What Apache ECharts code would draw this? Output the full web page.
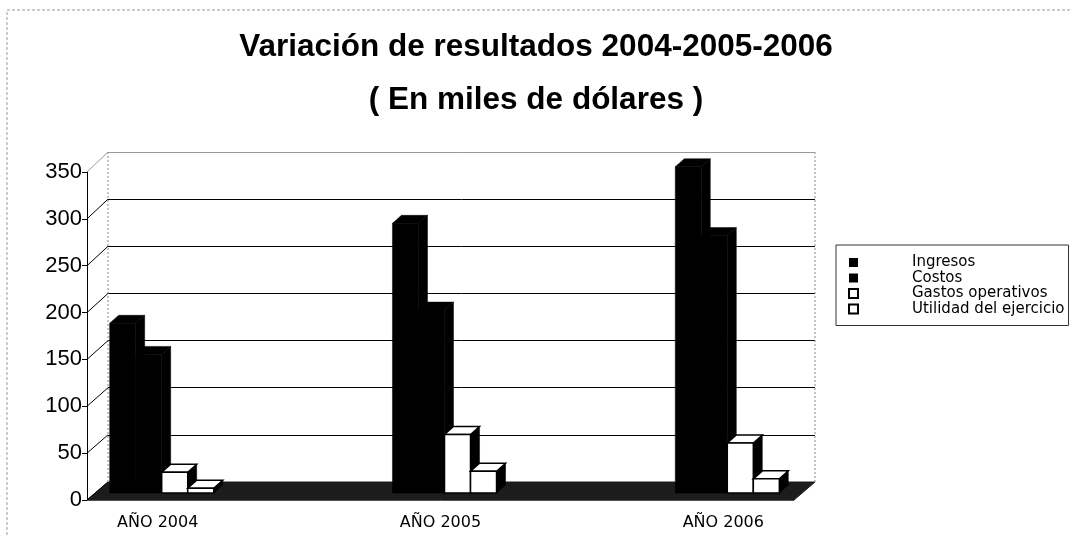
<!DOCTYPE html>
<html>
<head>
<meta charset="utf-8">
<script src="https://cdn.jsdelivr.net/npm/echarts@6/dist/echarts.min.js"></script>
<style>
  html, body { margin: 0; padding: 0; background: #fff; }
  #chart { width: 1072px; height: 535px; }
</style>
</head>
<body>
<div id="chart"></div>
<script>
// data (miles de dólares)
var categories = ['AÑO 2004', '', 'AÑO 2005', '', 'AÑO 2006']
var ingresos = [180, null, 286, null, 346]
var costos = [147, null, 194, null, 273]
var gastos = [22, null, 62, null, 53]
var utilidad = [5, null, 23, null, 15]
var yTicks = [0, 50, 100, 150, 200, 250, 300, 350]
var seriesNames = ['Ingresos', 'Costos', 'Gastos operativos', 'Utilidad del ejercicio']

// pseudo 3d layout: back wall, front axis plane and bar plane
var BACK = {left: 108, top: 152, width: 707, height: 330}
var FRONT = {left: 87, top: 172, width: 707, height: 328}
var BARS = {left: 91, top: 163, width: 707, height: 330}
var DEPTH_X = 9
var DEPTH_Y = 8
var BAR_FRAC = 0.184

var fills = ['#000', '#000', '#fff', '#fff']

function toPairs (arr) {
  var out = []
  arr.forEach(function (v, i) {
    if (v !== null) out.push([i, v])
  })
  return out
}

function barRenderer (k) {
  return function (params, api) {
    var top = api.coord([api.value(0), api.value(1)])
    var base = api.coord([api.value(0), 0])
    var band = api.size([1, 0])[0]
    var w = band * BAR_FRAC
    var x0 = top[0] - 2 * w + k * w
    var x1 = x0 + w
    var yt = top[1]
    var yb = base[1]
    var fill = fills[k]
    var edge = {stroke: '#000', lineWidth: fill === '#fff' ? 1.5 : 0.5}
    return {
      type: 'group',
      children: [
        {
          type: 'polygon',
          shape: {points: [[x1, yt], [x1 + DEPTH_X, yt - DEPTH_Y], [x1 + DEPTH_X, yb - DEPTH_Y], [x1, yb]]},
          style: {fill: '#000', stroke: '#000', lineWidth: 0.5}
        },
        {
          type: 'polygon',
          shape: {points: [[x0, yt], [x0 + DEPTH_X, yt - DEPTH_Y], [x1 + DEPTH_X, yt - DEPTH_Y], [x1, yt]]},
          style: Object.assign({fill: fill}, edge)
        },
        {
          type: 'rect',
          shape: {x: x0, y: yt, width: w, height: yb - yt},
          style: Object.assign({fill: fill}, edge)
        }
      ]
    }
  }
}

var valueSets = [ingresos, costos, gastos, utilidad]
var series = valueSets.map(function (arr, k) {
  return {
    name: seriesNames[k],
    type: 'custom',
    xAxisIndex: 2,
    yAxisIndex: 2,
    z: 5,
    itemStyle: {color: fills[k], borderColor: '#000'},
    renderItem: barRenderer(k),
    data: toPairs(arr)
  }
})

var yMin = yTicks[0]
var yMax = yTicks[yTicks.length - 1]
var yStep = yTicks[1] - yTicks[0]

var gridColors = yTicks.map(function (v, i) {
  return i === yTicks.length - 1 ? '#9a9a9a' : '#000'
})

var option = {
  backgroundColor: '#fff',
  animation: false,
  title: {
    text: 'Variación de resultados 2004-2005-2006\n( En miles de dólares )',
    left: 'center',
    top: 16,
    textStyle: {
      fontFamily: 'Liberation Sans',
      fontWeight: 'bold',
      fontSize: 31.5,
      lineHeight: 53,
      color: '#000'
    }
  },
  legend: {
    orient: 'vertical',
    left: 836,
    top: 245,
    padding: [10, 4, 9, 12],
    borderColor: '#333',
    borderWidth: 1,
    itemWidth: 9,
    itemHeight: 9,
    itemGap: 0.5,
    formatter: function (name) { return '{s|}' + name },
    textStyle: {
      fontFamily: 'DejaVu Sans',
      fontSize: 15,
      lineHeight: 15,
      color: '#000',
      rich: {s: {width: 49}}
    },
    data: [
      {name: seriesNames[0], icon: 'rect', itemStyle: {color: '#000', borderWidth: 0}},
      {name: seriesNames[1], icon: 'rect', itemStyle: {color: '#000', borderWidth: 0}},
      {name: seriesNames[2], icon: 'rect', itemStyle: {color: '#fff', borderColor: '#000', borderWidth: 2}},
      {name: seriesNames[3], icon: 'rect', itemStyle: {color: '#fff', borderColor: '#000', borderWidth: 2}}
    ]
  },
  grid: [
    {left: BACK.left, top: BACK.top, width: BACK.width, height: BACK.height},
    {left: FRONT.left, top: FRONT.top, width: FRONT.width, height: FRONT.height},
    {left: BARS.left, top: BARS.top, width: BARS.width, height: BARS.height}
  ],
  xAxis: [
    {gridIndex: 0, type: 'category', data: categories, show: false},
    {
      gridIndex: 1,
      type: 'category',
      data: categories,
      axisLine: {lineStyle: {color: '#888', width: 1}},
      axisTick: {interval: 0, length: 5, lineStyle: {color: '#555'}},
      axisLabel: {
        interval: 0,
        margin: 15,
        fontFamily: 'DejaVu Sans',
        fontSize: 16,
        color: '#000'
      }
    },
    {gridIndex: 2, type: 'category', data: categories, show: false}
  ],
  yAxis: [
    {
      gridIndex: 0,
      type: 'value',
      min: yMin,
      max: yMax,
      interval: yStep,
      axisLine: {show: false},
      axisTick: {show: false},
      axisLabel: {show: false},
      splitLine: {show: true, lineStyle: {color: gridColors, width: 1}}
    },
    {
      gridIndex: 1,
      type: 'value',
      min: yMin,
      max: yMax,
      interval: yStep,
      axisLine: {show: true, lineStyle: {color: '#000', width: 1}},
      axisTick: {show: true, length: 5, lineStyle: {color: '#000'}},
      axisLabel: {
        margin: 5,
        fontFamily: 'Liberation Sans',
        fontSize: 22,
        color: '#000'
      },
      splitLine: {show: false}
    },
    {gridIndex: 2, type: 'value', min: yMin, max: yMax, interval: yStep, show: false, splitLine: {show: false}}
  ],
  series: series
}

var myChart = echarts.init(document.getElementById('chart'), null, {renderer: 'canvas'})
myChart.setOption(option)

// decoration: floor slab, wall borders, tick connectors
var floorFrontY = FRONT.top + FRONT.height
var floorBackY = BACK.top + BACK.height
var graphics = [
  {
    type: 'rect',
    shape: {x: 7, y: 10, width: 1070, height: 530},
    style: {fill: 'none', stroke: '#999', lineWidth: 1, lineDash: [3, 2]},
    z: 0
  },
  {
    type: 'polygon',
    shape: {points: [
      [FRONT.left, floorFrontY],
      [BACK.left, floorBackY],
      [BACK.left + BACK.width, floorBackY],
      [FRONT.left + FRONT.width, floorFrontY]
    ]},
    style: {fill: '#1c1c1c', stroke: '#1c1c1c'},
    z: 1
  },
  {
    type: 'line',
    shape: {x1: BACK.left, y1: BACK.top, x2: BACK.left, y2: floorBackY},
    style: {stroke: '#8a8a8a', lineWidth: 1, lineDash: [2, 2]},
    z: 1
  },
  {
    type: 'line',
    shape: {x1: BACK.left + BACK.width, y1: BACK.top, x2: BACK.left + BACK.width, y2: floorBackY},
    style: {stroke: '#8a8a8a', lineWidth: 1, lineDash: [2, 2]},
    z: 1
  }
]
yTicks.forEach(function (v, i) {
  var yf = myChart.convertToPixel({yAxisIndex: 1}, v)
  var yb = myChart.convertToPixel({yAxisIndex: 0}, v)
  graphics.push({
    type: 'line',
    shape: {x1: FRONT.left, y1: yf, x2: BACK.left, y2: yb},
    style: {stroke: i === yTicks.length - 1 ? '#9a9a9a' : '#000', lineWidth: 1},
    z: 1
  })
})
myChart.setOption({graphic: graphics})
</script>
</body>
</html>
